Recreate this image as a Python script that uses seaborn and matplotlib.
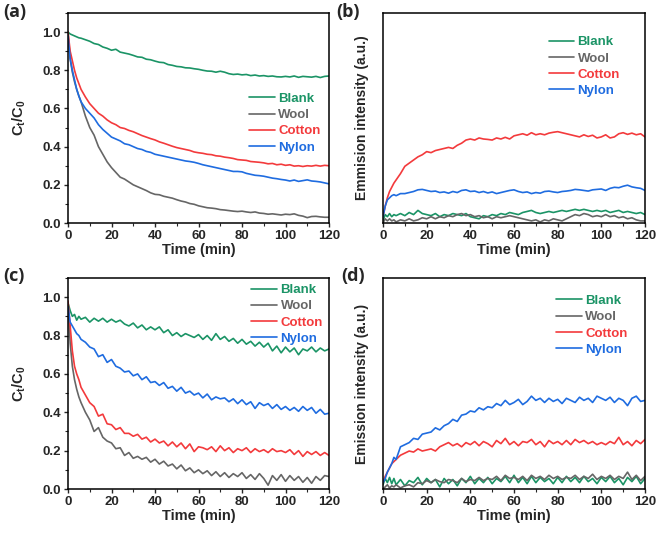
import matplotlib
matplotlib.use("Agg")
import matplotlib.pyplot as plt
import seaborn as sns
import numpy as np
from matplotlib.ticker import MultipleLocator

# ---------------- data ----------------
time_min = [0, 1, 2, 3, 4, 5, 6, 8, 10, 12, 14, 16, 18, 20, 22, 24, 26, 28, 30,
            32, 34, 36, 38, 40, 42, 44, 46, 48, 50, 52, 54, 56, 58, 60, 62, 64,
            66, 68, 70, 72, 74, 76, 78, 80, 82, 84, 86, 88, 90, 92, 94, 96, 98,
            100, 102, 104, 106, 108, 110, 112, 114, 116, 118, 120]

series_names = ["Blank", "Wool", "Cotton", "Nylon"]
series_colors = ["#1b9466", "#666666", "#f33a3c", "#1f6ce0"]

# panel (a): Ct/C0
a_blank = [1.00, .99, .985, .98, .975, .97, .968, .96, .952, .94, .935, .922, .915, .905, .91, .895,
           .89, .885, .878, .87, .868, .858, .855, .848, .842, .84, .83, .826, .82, .818, .813, .812,
           .808, .805, .80, .796, .795, .79, .795, .79, .782, .778, .78, .776, .778, .772, .775, .77,
           .772, .768, .77, .766, .765, .768, .765, .77, .763, .768, .766, .764, .768, .762, .768, .77]
a_wool = [1.00, .86, .79, .74, .70, .665, .635, .56, .50, .46, .40, .36, .32, .29, .265, .24,
          .23, .215, .20, .19, .18, .17, .158, .15, .148, .14, .135, .13, .122, .115, .11, .102,
          .098, .09, .085, .08, .078, .075, .07, .068, .065, .062, .06, .062, .058, .055, .058, .052,
          .05, .046, .048, .045, .042, .046, .044, .048, .04, .036, .028, .034, .035, .032, .03, .03]
a_cotton = [1.00, .90, .85, .80, .76, .73, .70, .66, .625, .60, .575, .56, .54, .525, .515, .50,
            .495, .485, .478, .468, .458, .45, .442, .435, .425, .418, .41, .402, .395, .39, .385, .38,
            .372, .368, .365, .36, .358, .352, .35, .345, .342, .338, .332, .33, .328, .322, .32, .318,
            .315, .31, .312, .305, .308, .302, .305, .298, .30, .296, .30, .298, .302, .298, .302, .30]
a_nylon = [.98, .86, .80, .75, .70, .665, .635, .60, .575, .55, .515, .49, .47, .45, .44, .43,
           .415, .41, .40, .39, .385, .375, .37, .36, .355, .35, .345, .34, .335, .33, .325, .322,
           .318, .312, .305, .30, .295, .29, .285, .28, .275, .27, .27, .268, .26, .255, .25, .248,
           .245, .24, .235, .232, .228, .225, .22, .225, .218, .222, .226, .22, .218, .215, .21, .205]

# panel (b): emission intensity (a.u.)
b_blank = [.01, .04, .03, .045, .03, .04, .035, .045, .035, .05, .04, .06, .045, .04, .035, .045,
           .03, .04, .035, .045, .04, .035, .045, .03, .025, .02, .035, .03, .04, .035, .045, .04,
           .05, .045, .04, .05, .055, .06, .05, .045, .05, .055, .05, .055, .06, .055, .06, .065,
           .06, .065, .06, .055, .06, .055, .06, .05, .055, .06, .05, .055, .05, .045, .05, .04]
b_wool = [.0, .02, .01, .02, .01, .015, .005, .015, .01, .02, .01, .015, .025, .02, .03, .02,
          .03, .025, .035, .03, .04, .045, .035, .04, .03, .035, .025, .03, .02, .03, .025, .03,
          .035, .03, .025, .02, .015, .01, .015, .005, .015, .01, .02, .015, .01, .02, .03, .04,
          .035, .045, .04, .03, .035, .03, .04, .03, .035, .025, .03, .02, .025, .015, .01, .01]
b_cotton = [.03, .08, .12, .15, .17, .19, .205, .235, .27, .285, .30, .315, .325, .34, .335, .345,
            .35, .355, .36, .355, .37, .38, .395, .40, .395, .405, .40, .398, .395, .405, .40, .408,
            .40, .415, .42, .425, .418, .43, .42, .425, .42, .428, .432, .435, .43, .425, .42, .415,
            .41, .42, .412, .418, .405, .41, .42, .405, .41, .425, .43, .422, .428, .42, .425, .41]
b_nylon = [.03, .08, .11, .12, .13, .135, .13, .14, .14, .145, .15, .158, .16, .155, .15, .152,
           .145, .148, .142, .15, .145, .155, .158, .15, .152, .145, .15, .143, .148, .14, .145, .15,
           .155, .158, .15, .145, .148, .14, .145, .142, .15, .152, .148, .145, .15, .152, .155, .16,
           .158, .155, .152, .158, .16, .162, .155, .165, .17, .168, .175, .18, .172, .168, .165, .155]

# panel (c): Ct/C0
c_blank = [.97, .93, .90, .91, .88, .90, .885, .895, .87, .89, .875, .89, .87, .885, .87, .88,
           .86, .85, .865, .84, .855, .83, .845, .83, .845, .815, .83, .80, .815, .795, .81, .80,
           .79, .805, .78, .80, .775, .81, .78, .795, .77, .785, .76, .78, .755, .77, .745, .765,
           .74, .76, .72, .745, .71, .74, .715, .735, .70, .73, .72, .74, .715, .735, .72, .73]
c_wool = [.97, .76, .64, .57, .52, .48, .45, .40, .36, .30, .32, .27, .25, .24, .21, .215,
          .175, .19, .16, .17, .155, .165, .14, .155, .13, .145, .12, .13, .105, .125, .095, .11,
          .085, .10, .08, .095, .07, .09, .065, .085, .06, .08, .065, .085, .055, .075, .05, .08,
          .055, .02, .07, .045, .075, .04, .07, .045, .065, .035, .06, .03, .065, .045, .07, .065]
c_cotton = [.98, .85, .72, .64, .60, .57, .53, .49, .45, .43, .38, .39, .34, .335, .31, .32,
            .29, .29, .275, .285, .26, .27, .245, .26, .24, .25, .225, .245, .22, .24, .21, .235,
            .195, .22, .215, .205, .22, .195, .225, .20, .215, .19, .21, .20, .215, .19, .21, .195,
            .205, .19, .21, .195, .20, .19, .205, .18, .20, .17, .195, .18, .195, .175, .19, .175]
c_nylon = [.95, .87, .85, .83, .81, .80, .78, .765, .74, .73, .69, .70, .66, .675, .64, .63,
           .61, .615, .59, .60, .57, .585, .555, .56, .54, .555, .525, .535, .51, .53, .50, .51,
           .49, .50, .475, .495, .465, .48, .47, .475, .455, .47, .445, .465, .44, .455, .42, .45,
           .435, .445, .42, .44, .415, .43, .41, .425, .405, .43, .41, .425, .395, .415, .39, .395]

# panel (d): emission intensity (a.u.)
d_blank = [.02, .05, .03, .055, .025, .05, .02, .045, .015, .04, .03, .055, .02, .05, .03, .045,
           .01, .05, .025, .045, .015, .05, .03, .06, .025, .05, .03, .055, .025, .05, .035, .06,
           .03, .065, .03, .055, .025, .06, .03, .055, .035, .05, .025, .055, .03, .06, .035, .055,
           .03, .06, .035, .05, .025, .055, .035, .06, .03, .05, .02, .055, .035, .06, .025, .05]
d_wool = [.0, .01, .02, .005, .015, .01, .02, .005, .015, .02, .01, .03, .025, .04, .03, .045,
          .035, .03, .045, .04, .03, .05, .035, .045, .04, .055, .04, .05, .045, .06, .04, .065,
          .05, .055, .045, .06, .04, .065, .05, .06, .045, .065, .05, .06, .045, .055, .05, .065,
          .045, .06, .05, .07, .045, .06, .05, .065, .045, .06, .05, .08, .045, .065, .04, .06]
d_cotton = [.03, .06, .08, .10, .12, .13, .14, .16, .17, .18, .175, .19, .18, .185, .19, .18,
            .20, .21, .22, .205, .215, .20, .22, .21, .225, .205, .225, .215, .20, .23, .215, .24,
            .21, .225, .205, .225, .22, .235, .21, .225, .20, .23, .215, .225, .21, .23, .21, .235,
            .22, .23, .215, .225, .21, .22, .21, .225, .215, .245, .21, .225, .205, .23, .215, .235]
d_nylon = [.03, .05, .08, .10, .12, .15, .14, .20, .21, .22, .24, .235, .26, .265, .27, .29,
           .28, .30, .31, .33, .32, .35, .355, .37, .365, .385, .375, .39, .385, .405, .395, .42,
           .40, .41, .425, .40, .415, .44, .42, .43, .41, .43, .415, .425, .405, .43, .42, .41,
           .435, .42, .43, .41, .44, .43, .42, .435, .41, .43, .42, .395, .43, .44, .415, .42]

x_ticks = [0, 20, 40, 60, 80, 100, 120]
y_ticks_ct = [0.0, 0.2, 0.4, 0.6, 0.8, 1.0]

# ---------------- style ----------------
sns.set_theme(style="ticks")
plt.rcParams["font.family"] = ["Liberation Sans", "DejaVu Sans"]
plt.rcParams["font.weight"] = "bold"
plt.rcParams["axes.labelweight"] = "bold"
plt.rcParams["mathtext.fontset"] = "custom"
plt.rcParams["mathtext.rm"] = "Liberation Sans:bold"
plt.rcParams["mathtext.it"] = "Liberation Sans:bold"
plt.rcParams["mathtext.bf"] = "Liberation Sans:bold"

fig = plt.figure(figsize=(6.57, 5.34), dpi=100)
W, H = 657.0, 534.0


def add_ax(l, t, r, b):
    return fig.add_axes([l / W, 1 - b / H, (r - l) / W, (b - t) / H])


ax_a = add_ax(68, 13, 329, 223)
ax_b = add_ax(383, 13, 645, 223)
ax_c = add_ax(68, 278, 329, 489)
ax_d = add_ax(383, 278, 645, 489)

panels = [
    (ax_a, [a_blank, a_wool, a_cotton, a_nylon], True, (0.695, 0.62), "(a)", (3, 12)),
    (ax_b, [b_blank, b_wool, b_cotton, b_nylon], False, (0.632, 0.89), "(b)", (336, 12)),
    (ax_c, [c_blank, c_wool, c_cotton, c_nylon], True, (0.703, 0.972), "(c)", (3, 276)),
    (ax_d, [d_blank, d_wool, d_cotton, d_nylon], False, (0.662, 0.92), "(d)", (341, 276)),
]

ylabels_em = {"(b)": "Emmision intensity (a.u.)", "(d)": "Emission intensity (a.u.)"}

for ax, data, is_ct, leg_pos, tag, tag_pos in panels:
    for vals, name, col in zip(data, series_names, series_colors):
        sns.lineplot(x=time_min, y=vals, color=col, lw=1.2, label=name, ax=ax)
    ax.set_xlim(0, 120)
    ax.set_xticks(x_ticks)
    ax.xaxis.set_minor_locator(MultipleLocator(10))
    if is_ct:
        ax.set_ylim(0, 1.1)
        ax.set_yticks(y_ticks_ct)
        ax.set_yticklabels([f"{v:.1f}" for v in y_ticks_ct])
        ax.yaxis.set_minor_locator(MultipleLocator(0.1))
        ax.set_ylabel(r"C$_{t}$/C$_{0}$", fontsize=10.5, fontweight="bold")
        ax.yaxis.set_label_coords(-0.155, 0.5)
    else:
        ax.set_ylim(0, 1.0)
        ax.set_yticks([])
        ax.set_ylabel(ylabels_em[tag], fontsize=10, fontweight="bold")
        ax.yaxis.set_label_coords(-0.055, 0.5)
    ax.set_xlabel("Time (min)", fontsize=10.5, fontweight="bold")
    ax.xaxis.set_label_coords(0.5, -0.095)
    ax.tick_params(which="major", direction="out", length=3, width=1.0, labelsize=9.5, pad=2)
    ax.tick_params(which="minor", direction="out", length=2, width=0.8)
    for lab in ax.get_xticklabels() + ax.get_yticklabels():
        lab.set_fontweight("bold")
    for sp in ax.spines.values():
        sp.set_visible(True)
        sp.set_linewidth(1.1)
        sp.set_color("black")
    leg = ax.legend(loc="upper left", bbox_to_anchor=leg_pos, frameon=False,
                    borderpad=0, borderaxespad=0, handlelength=1.95, handletextpad=0.25,
                    labelspacing=0.3, prop={"weight": "bold", "size": 9.5})
    for txt, col in zip(leg.get_texts(), series_colors):
        txt.set_color(col)
    fig.text(tag_pos[0] / W, 1 - tag_pos[1] / H, tag, fontsize=13, fontweight="bold",
             ha="left", va="center", family=["Open Sans", "DejaVu Sans"])

fig.savefig("out.png", dpi=100)
